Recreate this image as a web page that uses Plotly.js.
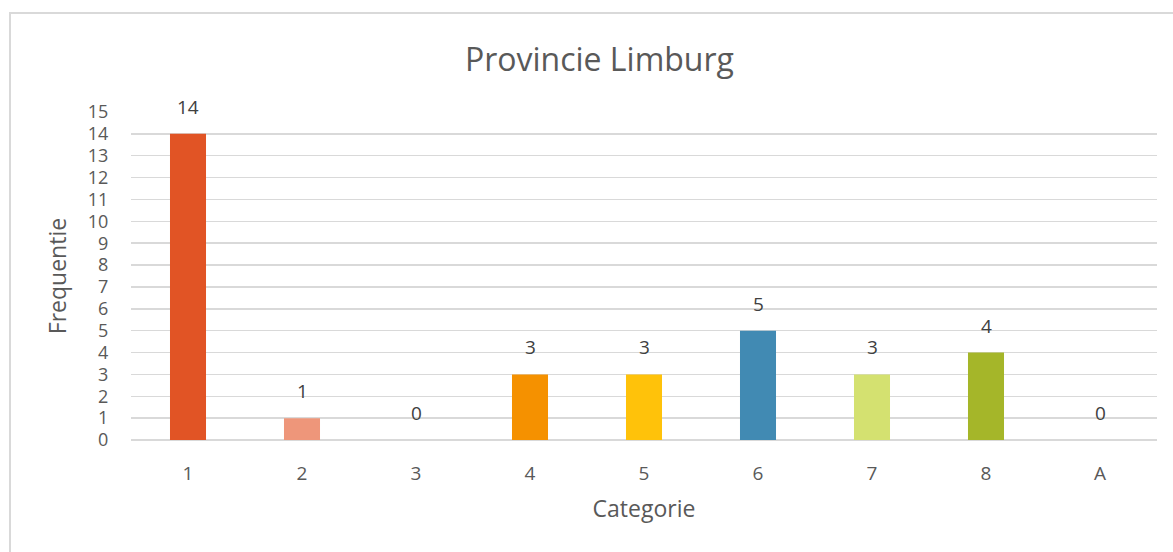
<!DOCTYPE html>
<html>
<head>
<meta charset="utf-8">
<script src="https://cdn.plot.ly/plotly-3.0.1.min.js"></script>
<style>
  html, body { margin: 0; padding: 0; overflow: hidden; background: #fff; }
  #chart { position: absolute; left: 0; top: 0; width: 1173px; height: 552px; }
  #frame { position: absolute; left: 9px; top: 12px; width: 1300px; height: 700px;
           border-left: 2px solid #d9d9d9; border-top: 2px solid #d9d9d9; pointer-events: none; }
</style>
</head>
<body>
<div id="chart"></div>
<div id="frame"></div>
<script>
// Categories and frequencies
var categories = ["1", "2", "3", "4", "5", "6", "7", "8", "A"];
var frequencies = [14, 1, 0, 3, 3, 5, 3, 4, 0];
var barColors = ["#E15425", "#EE967A", "#A5A5A5", "#F59100", "#FFC20A", "#418AB3", "#D4E170", "#A5B629", "#7F7F7F"];

var textGrey = "#595959";
var font = "Open Sans, Liberation Sans, sans-serif";

var trace = {
  x: categories,
  y: frequencies,
  type: "bar",
  width: 0.316,
  marker: { color: barColors },
  hoverinfo: "x+y"
};

// value labels above each bar (also for the empty ones)
// x is given as category index, since "1".."8" would be read as indices anyway
var labels = categories.map(function (c, i) {
  return {
    x: i, y: frequencies[i], xref: "x", yref: "y",
    text: String(frequencies[i]),
    showarrow: false, yanchor: "bottom", yshift: 12,
    font: { family: font, size: 19, color: "#404040" }
  };
});

var layout = {
  width: 1173,
  height: 552,
  margin: { l: 131, r: 16, t: 112, b: 112 },
  paper_bgcolor: "rgba(0,0,0,0)",
  plot_bgcolor: "rgba(0,0,0,0)",
  showlegend: false,
  bargap: 0.684,
  font: { family: font, color: textGrey, size: 18 },
  title: {
    text: "Provincie Limburg",
    x: 0.511, xref: "container", xanchor: "center",
    y: 0.891, yref: "container", yanchor: "middle",
    font: { family: font, size: 32, color: textGrey }
  },
  xaxis: {
    type: "category",
    showgrid: false,
    zeroline: false,
    showline: false,
    ticks: "outside", ticklen: 16, tickcolor: "rgba(0,0,0,0)",
    tickfont: { family: font, size: 19, color: textGrey },
    title: { text: "Categorie", standoff: 16, font: { family: font, size: 23, color: textGrey } }
  },
  yaxis: {
    range: [0, 15],
    dtick: 1,
    showgrid: true,
    gridcolor: "#d9d9d9",
    gridwidth: 1.5,
    zeroline: true,
    zerolinecolor: "#d9d9d9",
    zerolinewidth: 1.5,
    showline: false,
    ticks: "outside", ticklen: 18, tickcolor: "rgba(0,0,0,0)",
    tickfont: { family: font, size: 18, color: textGrey },
    title: { text: "Frequentie", standoff: 14, font: { family: font, size: 23, color: textGrey } }
  },
  annotations: labels
};

Plotly.newPlot("chart", [trace], layout, { displayModeBar: false, staticPlot: true });
</script>
</body>
</html>
